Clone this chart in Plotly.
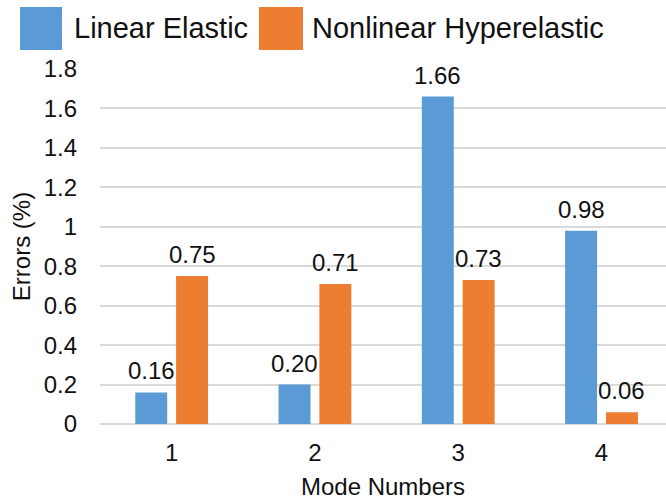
import plotly.graph_objects as go

# Data
modes = [1, 2, 3, 4]
mode_labels = ["1", "2", "3", "4"]
linear_elastic = [0.16, 0.20, 1.66, 0.98]
nonlinear_hyperelastic = [0.75, 0.71, 0.73, 0.06]
y_ticks = [0, 0.2, 0.4, 0.6, 0.8, 1, 1.2, 1.4, 1.6, 1.8]

BLUE = "#5b9bd5"
ORANGE = "#ed7d31"
TEXT = "#111111"
GRID = "#d9d9d9"
FONT = "Liberation Sans, Arial, sans-serif"

W, H = 666, 500
ML, MR, MT, MB = 100, 0, 69, 76

BAR_W = 0.223
OFF_BLUE = -0.254
OFF_ORANGE = 0.031


def px_x(p):
    return (p - ML) / (W - ML - MR)


def px_y(p):
    return (H - MB - p) / (H - MT - MB)


fig = go.Figure()
fig.add_trace(go.Bar(x=modes, y=linear_elastic, name="Linear Elastic",
                     width=BAR_W, offset=OFF_BLUE,
                     marker=dict(color=BLUE, line=dict(width=0))))
fig.add_trace(go.Bar(x=modes, y=nonlinear_hyperelastic, name="Nonlinear Hyperelastic",
                     width=BAR_W, offset=OFF_ORANGE,
                     marker=dict(color=ORANGE, line=dict(width=0))))

# value labels above bars
annotations = []
for vals, off in ((linear_elastic, OFF_BLUE), (nonlinear_hyperelastic, OFF_ORANGE)):
    for m, v in zip(modes, vals):
        annotations.append(dict(x=m + off + BAR_W / 2, y=v, xref="x", yref="y",
                                text=f"{v:.2f}", showarrow=False,
                                yanchor="bottom", yshift=6,
                                font=dict(size=24, color=TEXT, family=FONT)))

# legend drawn as swatches + labels
shapes = []
for (x0, x1), color in (((20, 62), BLUE), ((259, 303), ORANGE)):
    shapes.append(dict(type="rect", xref="paper", yref="paper",
                       x0=px_x(x0), x1=px_x(x1), y0=px_y(50), y1=px_y(7),
                       fillcolor=color, line=dict(width=0)))
for xl, name in ((72, "Linear Elastic"), (310, "Nonlinear Hyperelastic")):
    annotations.append(dict(x=px_x(xl), y=px_y(28), xref="paper", yref="paper",
                            text=name, showarrow=False, xanchor="left", yanchor="middle",
                            font=dict(size=29, color=TEXT, family=FONT)))

fig.update_layout(
    width=W, height=H,
    margin=dict(l=ML, r=MR, t=MT, b=MB),
    paper_bgcolor="white", plot_bgcolor="white",
    barmode="overlay",
    showlegend=False,
    font=dict(family=FONT, size=24, color=TEXT),
    annotations=annotations,
    shapes=shapes,
    xaxis=dict(range=[0.5, 4.45], tickvals=modes, ticktext=mode_labels,
               showgrid=False, zeroline=False, showline=False,
               ticks="", ticklabelstandoff=12,
               tickfont=dict(size=24, color=TEXT),
               title=dict(text="Mode Numbers", standoff=13,
                          font=dict(size=24, color=TEXT))),
    yaxis=dict(range=[0, 1.8], tickvals=y_ticks,
               ticktext=[f"{t:g}" for t in y_ticks],
               showgrid=True, gridcolor=GRID, gridwidth=1.5,
               zeroline=True, zerolinecolor=GRID, zerolinewidth=1.5,
               showline=False, ticks="", ticklabelstandoff=22,
               tickfont=dict(size=24, color=TEXT),
               title=dict(text="Errors (%)", standoff=6,
                          font=dict(size=24, color=TEXT))),
)

fig.write_html("out.html")
